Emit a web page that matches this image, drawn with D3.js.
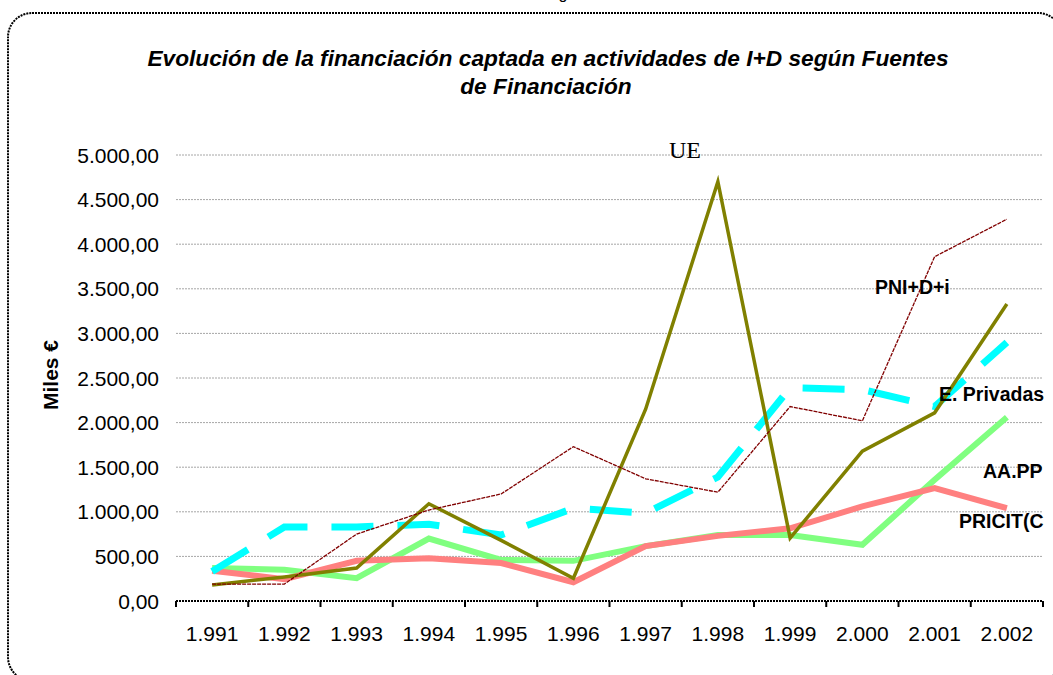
<!DOCTYPE html>
<html>
<head>
<meta charset="utf-8">
<script src="https://cdn.jsdelivr.net/npm/d3@7"></script>
<style>
  body { margin: 0; background: #ffffff; }
  svg { display: block; }
</style>
</head>
<body>
<svg id="chart" width="1053" height="675"></svg>
<script>
// years as printed on the axis
var years = ["1.991", "1.992", "1.993", "1.994", "1.995", "1.996", "1.997", "1.998", "1.999", "2.000", "2.001", "2.002"];
var yTicks = [0, 500, 1000, 1500, 2000, 2500, 3000, 3500, 4000, 4500, 5000];

// series values, miles de euros
var aapp = [370, 350, 255, 700, 460, 450, 615, 740, 740, 630, 1360, 2060];
var pricit = [340, 245, 450, 480, 425, 210, 615, 730, 815, 1060, 1265, 1040];
var privadas = [330, 830, 830, 860, 740, 1040, 985, 1390, 2390, 2370, 2180, 2900];
var ue = [180, 270, 370, 1090, 680, 255, 2150, 4700, 705, 1680, 2110, 3330];
var pni = [190, 190, 750, 1020, 1200, 1730, 1370, 1220, 2180, 2020, 3860, 4280];

var svg = d3.select("#chart");
var font = "'Liberation Sans', Arial, sans-serif";

// plot area
var plotLeft = 176, plotRight = 1043, plotTop = 155, plotBottom = 601;

var x = d3.scaleBand()
	.domain(years)
	.range([plotLeft, plotRight])
	.padding(0);

var y = d3.scaleLinear()
	.domain([0, 5000])
	.range([plotBottom, plotTop]);

var esLocale = d3.formatLocale({decimal: ",", thousands: ".", grouping: [3], currency: ["", " €"]});
var fmt = esLocale.format(",.2f");

/* border */
svg.append("rect")
	.attr("x", 8)
	.attr("y", 13)
	.attr("width", 1054)
	.attr("height", 668)
	.attr("rx", 24)
	.attr("ry", 24)
	.attr("fill", "none")
	.attr("stroke", "#000")
	.attr("stroke-width", 2)
	.attr("stroke-dasharray", "2,1");

// descender of a text sitting above the frame
svg.append("text")
	.attr("x", 563)
	.attr("y", -1)
	.attr("text-anchor", "middle")
	.attr("font-family", font)
	.attr("font-size", "16px")
	.text("g");

/* title */
var title = svg.append("text")
	.attr("text-anchor", "middle")
	.attr("font-family", font)
	.attr("font-size", "22.7px")
	.attr("font-weight", "bold")
	.attr("font-style", "italic");
title.append("tspan")
	.attr("x", 548)
	.attr("y", 66)
	.text("Evolución de la financiación captada en actividades de I+D según Fuentes");
title.append("tspan")
	.attr("x", 546)
	.attr("y", 94)
	.text("de Financiación");

/* gridlines */
svg.append("g")
	.selectAll("line")
	.data(yTicks.filter(function(d) { return d > 0; }))
	.enter()
	.append("line")
	.attr("x1", plotLeft)
	.attr("x2", plotRight)
	.attr("y1", function(d) { return y(d); })
	.attr("y2", function(d) { return y(d); })
	.attr("stroke", "#a6a6a6")
	.attr("stroke-width", 1)
	.attr("stroke-dasharray", "2,1");

/* y tick labels */
svg.append("g")
	.selectAll("text")
	.data(yTicks)
	.enter()
	.append("text")
	.attr("x", 159)
	.attr("y", function(d) { return y(d) + 7.5; })
	.attr("text-anchor", "end")
	.attr("font-family", font)
	.attr("font-size", "21px")
	.attr("fill", "#000")
	.text(function(d) { return fmt(d); });

svg.append("text")
	.attr("transform", "translate(58,375) rotate(-90)")
	.attr("text-anchor", "middle")
	.attr("font-family", font)
	.attr("font-size", "21px")
	.attr("font-weight", "bold")
	.text("Miles €");

/* x axis */
var xAxis = svg.append("g");
xAxis.append("line")
	.attr("x1", plotLeft)
	.attr("x2", plotRight)
	.attr("y1", plotBottom)
	.attr("y2", plotBottom)
	.attr("stroke", "#000")
	.attr("stroke-width", 2)
	.attr("stroke-dasharray", "2,1");

var bounds = years.map(function(d) { return x(d); }).concat([plotRight]);
xAxis.selectAll("line.tick")
	.data(bounds)
	.enter()
	.append("line")
	.attr("class", "tick")
	.attr("x1", function(d) { return d; })
	.attr("x2", function(d) { return d; })
	.attr("y1", plotBottom)
	.attr("y2", plotBottom + 6)
	.attr("stroke", "#000")
	.attr("stroke-width", 2);

xAxis.selectAll("text")
	.data(years)
	.enter()
	.append("text")
	.attr("x", function(d) { return x(d) + x.bandwidth() / 2; })
	.attr("y", 641)
	.attr("text-anchor", "middle")
	.attr("font-family", font)
	.attr("font-size", "21px")
	.text(function(d) { return d; });

/* lines */
var series = [
	{id: "aapp", values: aapp, color: "#80ff80", width: 6, dash: null},
	{id: "pricit", values: pricit, color: "#ff8080", width: 6, dash: null},
	{id: "privadas", values: privadas, color: "#00ffff", width: 7, dash: "42,24"},
	{id: "ue", values: ue, color: "#808000", width: 3.5, dash: null},
	{id: "pni", values: pni, color: "#800000", width: 1.3, dash: "4,1"}
];

var line = d3.line()
	.x(function(d, i) { return x(years[i]) + x.bandwidth() / 2; })
	.y(function(d) { return y(d); });

svg.append("g")
	.selectAll("path")
	.data(series, function(d) { return d.id; })
	.enter()
	.append("path")
	.attr("d", function(d) { return line(d.values); })
	.attr("fill", "none")
	.attr("stroke", function(d) { return d.color; })
	.attr("stroke-width", function(d) { return d.width; })
	.attr("stroke-linejoin", "miter")
	.attr("stroke-dasharray", function(d) { return d.dash; });

/* series labels */
var labels = [
	{text: "PNI+D+i", x: 875, y: 294},
	{text: "E. Privadas", x: 939, y: 401},
	{text: "AA.PP", x: 983, y: 478},
	{text: "PRICIT(C", x: 959, y: 528}
];

svg.append("g")
	.selectAll("text")
	.data(labels)
	.enter()
	.append("text")
	.attr("x", function(d) { return d.x; })
	.attr("y", function(d) { return d.y; })
	.attr("font-family", font)
	.attr("font-size", "19.5px")
	.attr("font-weight", "bold")
	.text(function(d) { return d.text; });

svg.append("text")
	.attr("x", 685)
	.attr("y", 158)
	.attr("text-anchor", "middle")
	.attr("font-family", "'Liberation Serif', 'Times New Roman', serif")
	.attr("font-size", "24px")
	.text("UE");
</script>
</body>
</html>
